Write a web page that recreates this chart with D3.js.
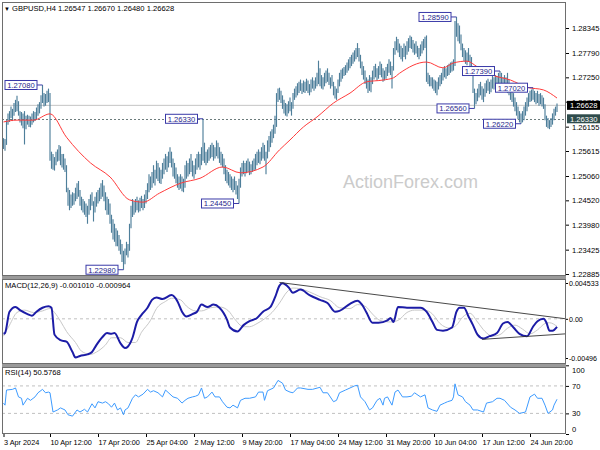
<!DOCTYPE html>
<html><head><meta charset="utf-8">
<script src="https://cdn.jsdelivr.net/npm/d3@7"></script>
<style>
body{margin:0;background:#fff}
svg{display:block}
text{font-family:"Liberation Sans",Arial,sans-serif}
</style>
</head><body>
<svg id="c" width="600" height="450"></svg>
<script>
// ---------------- DATA (GBPUSD H4, 3 Apr 2024 08:00 .. 27 Jun 2024 20:00) ----------------
const highs = [
 1.2590,1.2588,1.2630,1.2645,                         // Apr 3
 1.2650,1.2660,1.2655,1.2668,1.2675,1.2684,           // Apr 4
 1.2672,1.2650,1.2648,1.2645,1.2650,1.2640,           // Apr 5
 1.2642,1.2640,1.2638,1.2645,1.2650,1.2648,           // Apr 8
 1.2658,1.2665,1.2670,1.2685,1.2708,1.2690,           // Apr 9
 1.2688,1.2695,1.2700,1.2690,1.2560,1.2555,           // Apr 10
 1.2548,1.2560,1.2565,1.2575,1.2572,1.2555,           // Apr 11
 1.2555,1.2545,1.2530,1.2480,1.2475,1.2465,           // Apr 12
 1.2470,1.2468,1.2480,1.2490,1.2495,1.2475,           // Apr 15
 1.2460,1.2455,1.2450,1.2445,1.2440,1.2455,           // Apr 16
 1.2465,1.2470,1.2450,1.2460,1.2470,1.2475,           // Apr 17
 1.2480,1.2490,1.2497,1.2485,1.2470,1.2460,           // Apr 18
 1.2455,1.2445,1.2420,1.2410,1.2400,1.2390,           // Apr 19
 1.2385,1.2375,1.2365,1.2355,1.2340,1.2345,           // Apr 22
 1.2360,1.2355,1.2400,1.2440,1.2455,1.2450,           // Apr 23
 1.2455,1.2460,1.2452,1.2458,1.2462,1.2455,           // Apr 24
 1.2465,1.2475,1.2490,1.2510,1.2505,1.2515,           // Apr 25
 1.2530,1.2520,1.2540,1.2535,1.2525,1.2520,           // Apr 26
 1.2535,1.2545,1.2555,1.2550,1.2560,1.2570,           // Apr 29
 1.2560,1.2545,1.2535,1.2525,1.2510,1.2505,           // Apr 30
 1.2510,1.2505,1.2500,1.2530,1.2540,1.2535,           // May 1
 1.2545,1.2555,1.2540,1.2530,1.2545,1.2555,           // May 2
 1.2560,1.2555,1.2570,1.2633,1.2580,1.2560,           // May 3
 1.2565,1.2570,1.2575,1.2580,1.2575,1.2570,           // May 6
 1.2585,1.2580,1.2570,1.2560,1.2555,1.2545,           // May 7
 1.2530,1.2520,1.2515,1.2510,1.2505,1.2500,           // May 8
 1.2505,1.2495,1.2485,1.2500,1.2525,1.2535,           // May 9
 1.2540,1.2535,1.2540,1.2545,1.2538,1.2532,           // May 10
 1.2540,1.2545,1.2555,1.2560,1.2565,1.2560,           // May 13
 1.2570,1.2580,1.2575,1.2560,1.2585,1.2595,           // May 14
 1.2605,1.2610,1.2620,1.2640,1.2690,1.2700,           // May 15
 1.2702,1.2695,1.2685,1.2675,1.2668,1.2665,           // May 16
 1.2672,1.2680,1.2670,1.2690,1.2700,1.2705,           // May 17
 1.2712,1.2715,1.2720,1.2712,1.2718,1.2715,           // May 20
 1.2722,1.2718,1.2710,1.2720,1.2725,1.2718,           // May 21
 1.2725,1.2735,1.2762,1.2745,1.2730,1.2725,           // May 22
 1.2735,1.2740,1.2745,1.2735,1.2725,1.2730,           // May 23
 1.2715,1.2705,1.2700,1.2720,1.2735,1.2742,           // May 24
 1.2745,1.2748,1.2752,1.2758,1.2765,1.2770,           // May 27
 1.2775,1.2780,1.2785,1.2790,1.2801,1.2790,           // May 28
 1.2775,1.2760,1.2750,1.2740,1.2725,1.2720,           // May 29
 1.2730,1.2725,1.2740,1.2750,1.2755,1.2745,           // May 30
 1.2750,1.2760,1.2755,1.2745,1.2740,1.2748,           // May 31
 1.2755,1.2765,1.2760,1.2750,1.2790,1.2805,           // Jun 3
 1.2815,1.2810,1.2800,1.2795,1.2790,1.2800,           // Jun 4
 1.2795,1.2805,1.2812,1.2818,1.2815,1.2808,           // Jun 5
 1.2800,1.2805,1.2795,1.2790,1.2798,1.2805,           // Jun 6
 1.2810,1.2815,1.2818,1.2735,1.2730,1.2725,           // Jun 7
 1.2725,1.2720,1.2718,1.2715,1.2725,1.2730,           // Jun 10
 1.2735,1.2745,1.2750,1.2745,1.2752,1.2755,           // Jun 11
 1.2758,1.2760,1.2765,1.2850,1.2859,1.2845,           // Jun 12
 1.2840,1.2820,1.2800,1.2790,1.2785,1.2780,           // Jun 13
 1.2790,1.2775,1.2770,1.2745,1.2700,1.2690,           // Jun 14
 1.2700,1.2710,1.2715,1.2705,1.2700,1.2712,           // Jun 17
 1.2718,1.2722,1.2715,1.2720,1.2728,1.2725,           // Jun 18
 1.2730,1.2728,1.2735,1.2739,1.2735,1.2725,           // Jun 19
 1.2730,1.2725,1.2735,1.2720,1.2710,1.2700,           // Jun 20
 1.2690,1.2680,1.2670,1.2660,1.2650,1.2645,           // Jun 21
 1.2650,1.2660,1.2670,1.2680,1.2690,1.2695,           // Jun 24
 1.2698,1.2702,1.2695,1.2690,1.2695,1.2688,           // Jun 25
 1.2690,1.2685,1.2680,1.2665,1.2640,1.2635,           // Jun 26
 1.2630,1.2635,1.2645,1.2655,1.2660,1.2667            // Jun 27
];
const lows = [
 1.2566,1.2562,1.2575,1.2620,
 1.2626,1.2635,1.2628,1.2640,1.2648,1.2650,
 1.2640,1.2625,1.2618,1.2612,1.2576,1.2610,
 1.2620,1.2615,1.2614,1.2620,1.2625,1.2628,
 1.2632,1.2640,1.2645,1.2655,1.2668,1.2660,
 1.2662,1.2668,1.2670,1.2540,1.2522,1.2520,
 1.2518,1.2530,1.2538,1.2540,1.2530,1.2525,
 1.2520,1.2515,1.2470,1.2440,1.2430,1.2435,
 1.2440,1.2442,1.2450,1.2455,1.2460,1.2440,
 1.2430,1.2425,1.2420,1.2415,1.2400,1.2420,
 1.2430,1.2440,1.2405,1.2425,1.2438,1.2445,
 1.2450,1.2455,1.2460,1.2450,1.2430,1.2420,
 1.2420,1.2400,1.2380,1.2365,1.2360,1.2350,
 1.2350,1.2340,1.2332,1.2315,1.2298,1.2310,
 1.2330,1.2325,1.2340,1.2390,1.2415,1.2420,
 1.2425,1.2430,1.2425,1.2428,1.2435,1.2430,
 1.2435,1.2445,1.2455,1.2470,1.2475,1.2480,
 1.2490,1.2485,1.2500,1.2495,1.2490,1.2488,
 1.2500,1.2510,1.2520,1.2515,1.2525,1.2535,
 1.2525,1.2505,1.2500,1.2490,1.2480,1.2475,
 1.2478,1.2472,1.2470,1.2480,1.2500,1.2505,
 1.2510,1.2515,1.2505,1.2500,1.2510,1.2520,
 1.2525,1.2520,1.2530,1.2540,1.2535,1.2530,
 1.2535,1.2540,1.2545,1.2548,1.2540,1.2545,
 1.2550,1.2545,1.2535,1.2530,1.2525,1.2510,
 1.2495,1.2490,1.2485,1.2480,1.2475,1.2470,
 1.2475,1.2465,1.2455,1.2445,1.2480,1.2505,
 1.2510,1.2505,1.2512,1.2515,1.2508,1.2510,
 1.2515,1.2518,1.2520,1.2530,1.2535,1.2532,
 1.2540,1.2545,1.2540,1.2510,1.2545,1.2560,
 1.2570,1.2580,1.2590,1.2600,1.2615,1.2670,
 1.2675,1.2668,1.2655,1.2645,1.2640,1.2638,
 1.2645,1.2650,1.2640,1.2655,1.2675,1.2680,
 1.2685,1.2690,1.2695,1.2688,1.2692,1.2690,
 1.2695,1.2690,1.2685,1.2692,1.2700,1.2695,
 1.2700,1.2705,1.2710,1.2705,1.2700,1.2698,
 1.2705,1.2712,1.2715,1.2708,1.2700,1.2705,
 1.2685,1.2678,1.2675,1.2690,1.2705,1.2715,
 1.2722,1.2728,1.2730,1.2735,1.2740,1.2745,
 1.2750,1.2755,1.2760,1.2765,1.2770,1.2760,
 1.2745,1.2730,1.2720,1.2710,1.2700,1.2690,
 1.2695,1.2692,1.2710,1.2720,1.2725,1.2718,
 1.2722,1.2730,1.2725,1.2715,1.2718,1.2722,
 1.2728,1.2735,1.2730,1.2700,1.2740,1.2775,
 1.2785,1.2780,1.2770,1.2765,1.2760,1.2770,
 1.2765,1.2775,1.2782,1.2790,1.2788,1.2780,
 1.2775,1.2778,1.2770,1.2765,1.2772,1.2778,
 1.2785,1.2790,1.2715,1.2710,1.2705,1.2705,
 1.2700,1.2695,1.2690,1.2685,1.2698,1.2705,
 1.2710,1.2718,1.2725,1.2722,1.2728,1.2730,
 1.2735,1.2738,1.2740,1.2750,1.2815,1.2805,
 1.2800,1.2785,1.2770,1.2760,1.2755,1.2752,
 1.2760,1.2745,1.2740,1.2690,1.2656,1.2665,
 1.2672,1.2680,1.2685,1.2675,1.2670,1.2682,
 1.2690,1.2695,1.2688,1.2692,1.2700,1.2698,
 1.2705,1.2702,1.2708,1.2712,1.2705,1.2695,
 1.2700,1.2695,1.2690,1.2685,1.2675,1.2670,
 1.2660,1.2650,1.2640,1.2632,1.2625,1.2622,
 1.2625,1.2630,1.2640,1.2650,1.2660,1.2670,
 1.2672,1.2675,1.2670,1.2665,1.2668,1.2662,
 1.2665,1.2660,1.2655,1.2630,1.2615,1.2612,
 1.2610,1.2615,1.2620,1.2630,1.2640,1.2648
];

// red moving average (bar index, value)
const maIdx  = [0,9,20,31,42,58,71,84,93,104,118,131,146,158,173,184,191,200,209,220,231,242,253,260,264,282,293,300,309,316,326,338,349,360,369];
const maVals = [1.2626,1.2630,1.2630,1.2644,1.2592,1.2535,1.2504,1.2453,1.2448,1.2468,1.2490,1.2501,1.2526,1.2513,1.2526,1.2564,1.2586,1.2615,1.2637,1.2668,1.2690,1.2715,1.2719,1.2724,1.2734,1.2759,1.2746,1.2757,1.2761,1.2748,1.2730,1.2719,1.2703,1.2697,1.2679];

// swing labels
const swingIdx  = [26,80,133,157,302,314,331,345,353];
const swingVals = [1.27080,1.22980,1.26330,1.24450,1.28590,1.26560,1.27390,1.26220,1.27020];

// price axis ticks
const priceTicks = [1.28345,1.27790,1.27250,1.26710,1.26155,1.25615,1.25060,1.24520,1.23980,1.23425,1.22885];
const lastPrice = 1.26628;
const levelPrice = 1.26330;
const headerText = "GBPUSD,H4  1.26547 1.26670 1.26480 1.26628";

// MACD
const macdIdx = [0,1,4,8,11,16,19,22,26,30,32,34,38,42,46,48,51,56,59,62,66,69,72,74,78,81,83,86,89,92,96,99,102,106,112,116,119,122,126,129,132,136,140,144,149,151,156,160,164,169,173,178,181,184,186,190,193,198,204,211,216,221,224,231,236,239,242,246,250,256,258,260,263,269,274,278,282,286,289,293,299,302,304,307,310,313,316,320,324,329,333,336,340,344,349,353,356,360,362,364,366,369];
const macdVals = [-0.0019,-0.0018,0.0009,0.0015,0.0011,0.0006,0.0004,0.0009,0.0014,0.0016,
 0.0014,-0.0020,-0.0027,-0.0029,-0.0042,-0.0049,-0.0047,-0.0045,-0.0042,-0.0033,
 -0.0023,-0.0018,-0.0019,-0.0018,-0.0031,-0.0037,-0.0035,-0.0024,-0.0004,0.0005,
 0.0014,0.0024,0.0027,0.0025,0.0030,0.0022,0.0009,0.0003,0.0006,0.0009,
 0.0018,0.0015,0.0018,0.0014,-0.0001,-0.0011,-0.0016,-0.0008,-0.0003,0.0001,
 0.0009,0.0015,0.0027,0.0042,0.0045,0.0040,0.0033,0.0037,0.0030,0.0024,
 0.0020,0.0009,0.0010,0.0019,0.0023,0.0018,0.0008,-0.0005,-0.0005,-0.0002,
 0.0001,-0.0004,0.0015,0.0014,0.0014,0.0014,0.0009,-0.0004,-0.0014,-0.0015,
 -0.0011,0.0009,0.0014,0.0014,0.0003,-0.0008,-0.0020,-0.0025,-0.0022,-0.0018,
 -0.0006,-0.0004,-0.0011,-0.0019,-0.0022,-0.0010,-0.0003,0.0000,-0.0005,-0.0015,
 -0.0015,-0.00101];
const sigIdx = [0,4,9,14,20,26,31,34,38,42,48,52,58,62,68,72,78,83,88,92,98,102,108,112,118,122,128,132,138,144,150,154,160,164,169,174,179,184,189,193,198,204,211,218,224,231,236,241,246,251,258,263,269,274,281,286,291,298,302,306,311,316,321,326,331,336,341,346,351,356,361,364,369];
const sigVals = [-0.0022,-0.0008,0.0008,0.0011,0.0008,0.0010,0.0013,0.0008,-0.0003,-0.0016,
 -0.0030,-0.0041,-0.0045,-0.0042,-0.0033,-0.0024,-0.0024,-0.0030,-0.0030,-0.0017,
 -0.0002,0.0013,0.0022,0.0026,0.0024,0.0016,0.0010,0.0010,0.0014,0.0015,
 0.0010,0.0000,-0.0010,-0.0010,-0.0006,0.0000,0.0008,0.0020,0.0034,0.0039,
 0.0038,0.0034,0.0028,0.0023,0.0014,0.0013,0.0018,0.0016,0.0006,-0.0002,
 -0.0004,-0.0002,0.0008,0.0011,0.0011,0.0006,-0.0006,-0.0012,-0.0008,0.0002,
 0.0007,-0.0004,-0.0016,-0.0022,-0.0020,-0.0012,-0.0008,-0.0013,-0.0019,-0.0014,
 -0.0006,-0.0005,-0.00096];
const macdTrendUpIdx = [184,375], macdTrendUpVals = [0.0046,0.0000];
const macdTrendLoIdx = [319,375], macdTrendLoVals = [-0.0026,-0.0019];
const macdTicks = [0.004533,0,-0.00496];
const macdTickText = ["0.004533","0.00","-0.00496"];
const macdTitle = "MACD(12,26,9) -0.001010 -0.000964";

// RSI
const rsiIdx = [0,1,2,6,8,10,12,13,16,18,21,23,26,28,30,31,33,36,38,41,43,46,49,51,54,56,59,61,63,66,68,70,72,74,76,78,80,81,83,86,88,90,93,96,98,100,103,106,108,111,113,116,119,121,123,126,128,130,132,134,136,139,141,144,146,149,151,153,156,158,161,164,168,170,173,174,176,180,183,186,188,191,193,196,198,203,206,211,213,216,220,222,224,228,231,234,236,238,241,244,246,249,251,253,254,256,259,261,263,266,269,272,274,278,281,283,286,289,291,294,296,299,300,301,303,306,308,311,313,316,320,322,326,329,331,334,338,341,344,348,351,354,356,359,361,363,366,367,369];
const rsiVals = [45,42,64,65,67,54,52,42,52,49,54,60,65,60,61,60,32,35,38,35,28,26,35,32,36,32,44,38,47,45,47,44,39,45,35,38,28,35,38,52,57,54,58,65,61,63,60,54,64,58,54,52,45,49,52,54,55,57,67,52,54,61,54,54,47,39,38,42,38,49,52,52,54,61,61,49,63,67,78,74,64,61,60,67,67,65,65,68,60,60,47,49,60,64,67,70,71,54,47,35,38,49,52,42,52,54,42,61,64,54,54,55,60,54,57,38,35,33,42,45,47,49,54,73,57,54,47,42,35,35,32,45,47,52,52,49,39,35,30,32,54,58,52,52,42,30,35,42,50.58];
const rsiTicks = [100,70,30,0];
const rsiLevels = [70,30];
const rsiTitle = "RSI(14) 50.5768";

// time axis
const xTickIdx  = [0,31,63,95,127,159,191,223,255,287,319,351];
const xTickText = ["3 Apr 2024","10 Apr 12:00","17 Apr 20:00","25 Apr 04:00","2 May 12:00","9 May 20:00","17 May 04:00","24 May 12:00","31 May 20:00","10 Jun 04:00","17 Jun 12:00","24 Jun 20:00"];
const watermark = "ActionForex.com";

// ---------------- DRAWING ----------------
const svg = d3.select('#c');
const FS = 7.6;
const FF = '"Liberation Sans",Arial,sans-serif';
const PL = 2, PR = 566;
const main = {t:2, b:276}, mac = {t:279, b:364}, rsi = {t:367, b:434};

const x  = d3.scaleLinear().domain([0, highs.length-1]).range([3.5, 557]);
const yP = d3.scaleLinear().domain([1.22885, 1.28345]).range([274, 28]);
const yM = d3.scaleLinear().domain([-0.00496, 0.004533]).range([358, 283]);
const yR = d3.scaleLinear().domain([0, 100]).range([434, 365.3]);

svg.append('rect').attr('width',600).attr('height',450).attr('fill','#fff');

// panel separators
svg.append('rect').attr('x',PL).attr('y',main.b).attr('width',PR-PL).attr('height',mac.t-main.b).attr('fill','#9a9a9a');
svg.append('rect').attr('x',PL).attr('y',mac.b).attr('width',PR-PL).attr('height',rsi.t-mac.b).attr('fill','#9a9a9a');

const defs = svg.append('defs');
[['cm',main],['cd',mac],['cr',rsi]].forEach(([id,p])=>{
  defs.append('clipPath').attr('id',id).append('rect').attr('x',PL).attr('y',p.t).attr('width',PR-PL).attr('height',p.b-p.t);
});

// watermark
svg.append('text').attr('x',343).attr('y',188).attr('font-size',18).attr('fill','#cbcbcb').text(watermark);

// ---- main panel ----
const gm = svg.append('g').attr('clip-path','url(#cm)');
gm.append('line').attr('x1',PL).attr('x2',PR).attr('y1',yP(lastPrice)).attr('y2',yP(lastPrice)).attr('stroke','#c4c4c4').attr('stroke-width',1);
gm.append('line').attr('x1',PL).attr('x2',PR).attr('y1',Math.round(yP(levelPrice))+0.5).attr('y2',Math.round(yP(levelPrice))+0.5)
  .attr('stroke','#6c7c7c').attr('stroke-width',1).attr('stroke-dasharray','2,2');

gm.append('g').selectAll('line').data(highs).join('line')
  .attr('x1',(d,i)=>x(i)).attr('x2',(d,i)=>x(i))
  .attr('y1',d=>yP(d)).attr('y2',(d,i)=>yP(lows[i]))
  .attr('stroke','#4e7f9a').attr('stroke-width',1.15);

const maData = maIdx.map((d,i)=>[d,maVals[i]]);
gm.append('path').datum(maData)
  .attr('d',d3.line().x(d=>x(d[0])).y(d=>yP(d[1])).curve(d3.curveMonotoneX))
  .attr('fill','none').attr('stroke','#ff3b3b').attr('stroke-width',1);

// swing labels
const gs = svg.append('g');
swingIdx.forEach((bi,k)=>{
  const v = swingVals[k];
  const bx = x(bi), by = yP(v);
  const bw = 32, bh = 9, gap = 6;
  const rx = bx - gap - bw;
  gs.append('line').attr('x1',rx+bw).attr('x2',bx).attr('y1',by).attr('y2',by).attr('stroke','#3a3aa8').attr('stroke-width',1);
  gs.append('rect').attr('x',rx+0.5).attr('y',by-bh/2).attr('width',bw).attr('height',bh)
    .attr('fill','#fff').attr('stroke','#3a3aa8').attr('stroke-width',1);
  gs.append('text').attr('x',rx+bw/2+0.5).attr('y',by+3).attr('text-anchor','middle')
    .attr('font-size',FS).attr('fill','#24248a').text(v.toFixed(5));
});

// header
svg.append('text').attr('x',4).attr('y',11).attr('font-size',6).attr('fill','#000').text('\u25BC');
svg.append('text').attr('x',12).attr('y',11).attr('font-size',FS).attr('fill','#000').text(headerText);

// price axis
const axP = d3.axisRight(yP).tickValues(priceTicks).tickSize(3).tickPadding(3).tickFormat(d=>d.toFixed(5));
const gpa = svg.append('g').attr('transform',`translate(${PR},0)`).call(axP);
gpa.select('.domain').remove();
gpa.selectAll('text').attr('font-size',FS).attr('fill','#000').attr('font-family',FF);
gpa.selectAll('line').attr('stroke','#000');

// price boxes at right
[[lastPrice,'#000'],[levelPrice,'#2f4c4c']].forEach(([v,c])=>{
  const yy = yP(v);
  svg.append('rect').attr('x',PR+1).attr('y',yy-4.5).attr('width',33).attr('height',9).attr('fill',c);
  svg.append('text').attr('x',PR+4).attr('y',yy+3).attr('font-size',FS).attr('fill','#fff').text(v.toFixed(5));
});

// ---- MACD panel ----
const gd = svg.append('g').attr('clip-path','url(#cd)');
gd.append('line').attr('x1',PL).attr('x2',PR).attr('y1',yM(0)).attr('y2',yM(0)).attr('stroke','#c0c0c0').attr('stroke-dasharray','3,3');
const sigData = sigIdx.map((d,i)=>[d,sigVals[i]]);
gd.append('path').datum(sigData).attr('d',d3.line().x(d=>x(d[0])).y(d=>yM(d[1])).curve(d3.curveMonotoneX))
  .attr('fill','none').attr('stroke','#c8c8c8').attr('stroke-width',1);
const macdData = macdIdx.map((d,i)=>[d,macdVals[i]]);
gd.append('path').datum(macdData).attr('d',d3.line().x(d=>x(d[0])).y(d=>yM(d[1])).curve(d3.curveMonotoneX))
  .attr('fill','none').attr('stroke','#1c1ca6').attr('stroke-width',2).attr('stroke-linejoin','round');
[[macdTrendUpIdx,macdTrendUpVals],[macdTrendLoIdx,macdTrendLoVals]].forEach(([ii,vv])=>{
  gd.append('line').attr('x1',x(ii[0])).attr('x2',x(ii[1])).attr('y1',yM(vv[0])).attr('y2',yM(vv[1]))
    .attr('stroke','#333').attr('stroke-width',0.9);
});
svg.append('text').attr('x',5).attr('y',288).attr('font-size',FS).attr('fill','#000').text(macdTitle);
const axM = d3.axisRight(yM).tickValues(macdTicks).tickSize(2).tickPadding(1).tickFormat((d,i)=>macdTickText[i]);
const gma = svg.append('g').attr('transform',`translate(${PR},0)`).call(axM);
gma.select('.domain').remove();
gma.selectAll('text').attr('font-size',7.1).attr('fill','#000').attr('font-family',FF);
gma.selectAll('line').attr('stroke','#000');

// ---- RSI panel ----
const gr = svg.append('g').attr('clip-path','url(#cr)');
rsiLevels.forEach(l=>{
  gr.append('line').attr('x1',PL).attr('x2',PR).attr('y1',yR(l)).attr('y2',yR(l)).attr('stroke','#c0c0c0').attr('stroke-dasharray','3,3');
});
const rsiData = rsiIdx.map((d,i)=>[d,rsiVals[i]]);
gr.append('path').datum(rsiData).attr('d',d3.line().x(d=>x(d[0])).y(d=>yR(d[1])))
  .attr('fill','none').attr('stroke','#3d9bff').attr('stroke-width',1);
svg.append('text').attr('x',5).attr('y',375).attr('font-size',FS).attr('fill','#000').text(rsiTitle);
const axR = d3.axisRight(yR).tickValues(rsiTicks).tickSize(3).tickPadding(3);
const gra = svg.append('g').attr('transform',`translate(${PR},0)`).call(axR);
gra.select('.domain').remove();
gra.selectAll('text').attr('font-size',FS).attr('fill','#000').attr('font-family',FF)
  .attr('dy',d=> d===100 ? '0.95em' : (d===0 ? '-0.3em' : '0.32em'));
gra.selectAll('line').attr('stroke','#000');

// time axis
const axX = d3.axisBottom(x).tickValues(xTickIdx).tickSize(3).tickPadding(3).tickFormat((d,i)=>xTickText[i]);
const gxa = svg.append('g').attr('transform',`translate(0,${rsi.b})`).call(axX);
gxa.select('.domain').remove();
gxa.selectAll('text').attr('font-size',7.3).attr('fill','#000').attr('text-anchor','start').attr('x',0)
  .attr('font-family',FF);
gxa.selectAll('line').attr('stroke','#000');

// panel frames
[main,mac,rsi].forEach(p=>{
  svg.append('rect').attr('x',PL+0.5).attr('y',p.t+0.5).attr('width',PR-PL-1).attr('height',p.b-p.t-1)
    .attr('fill','none').attr('stroke','#6e6e6e').attr('stroke-width',1);
});
</script>
</body></html>
